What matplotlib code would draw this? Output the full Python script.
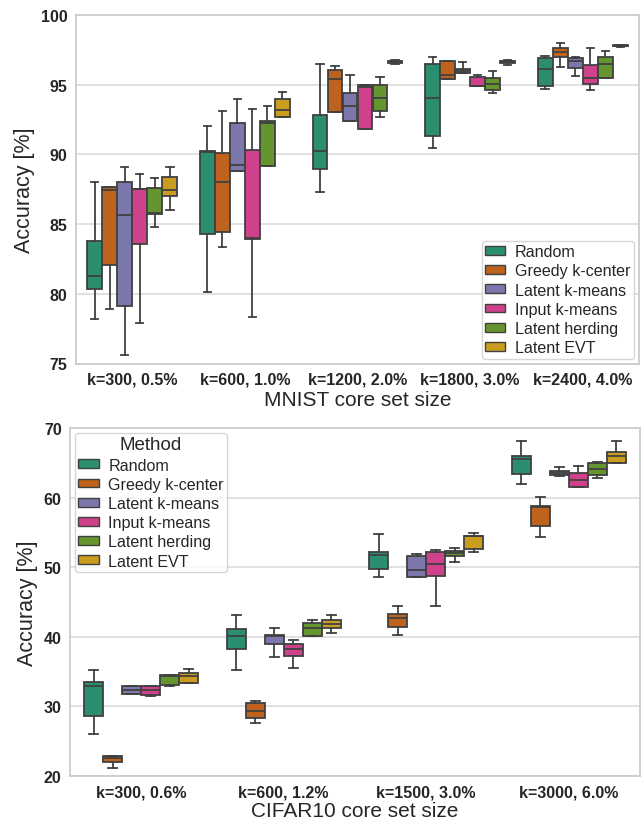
import colorsys
import matplotlib
matplotlib.use("Agg")
import matplotlib.pyplot as plt
import matplotlib.colors as mcolors
from matplotlib.patches import Patch

plt.rcParams['font.family'] = ['Liberation Sans', 'DejaVu Sans']

methods = ["Random", "Greedy k-center", "Latent k-means", "Input k-means",
           "Latent herding", "Latent EVT"]
base_colors = ["#1b9e77", "#d95f02", "#7570b3", "#e7298a", "#66a61e", "#e6ab02"]

# ---------- MNIST: (whislo, q1, med, q3, whishi) per method per group ----------
mnist_groups = ["k=300, 0.5%", "k=600, 1.0%", "k=1200, 2.0%", "k=1800, 3.0%", "k=2400, 4.0%"]
mnist_random = [(78.18, 80.38, 81.27, 83.76, 88.04), (80.10, 84.28, 90.17, 90.22, 92.06),
                (87.32, 88.95, 90.26, 92.82, 96.46), (90.45, 91.34, 94.07, 96.48, 96.99),
                (94.71, 94.93, 96.15, 96.91, 97.06)]
mnist_greedy = [(78.88, 82.08, 87.44, 87.63, 87.68), (83.35, 84.45, 88.04, 90.07, 93.13),
                (93.06, 93.06, 95.38, 96.03, 96.36), (95.38, 95.38, 95.69, 96.67, 96.67),
                (96.27, 96.96, 97.37, 97.63, 97.97)]
mnist_lkmeans = [(75.60, 79.14, 85.65, 87.99, 89.07), (88.78, 88.78, 89.21, 92.22, 93.95),
                 (92.42, 92.42, 93.47, 94.43, 95.67), (95.84, 95.84, 96.00, 96.15, 96.63),
                 (95.60, 96.22, 96.70, 96.94, 96.99)]
mnist_ikmeans = [(77.92, 83.59, 87.49, 87.54, 88.56), (78.30, 83.95, 84.02, 90.29, 93.25),
                 (91.82, 91.82, 94.83, 94.98, 95.00), (94.88, 94.88, 94.90, 95.53, 95.67),
                 (94.64, 95.07, 95.45, 96.44, 97.63)]
mnist_herding = [(84.81, 85.72, 85.77, 87.61, 88.33), (89.19, 89.19, 92.25, 92.42, 93.44),
                 (92.70, 93.09, 94.07, 94.95, 95.57), (94.40, 94.59, 95.02, 95.48, 95.96),
                 (95.45, 95.45, 96.51, 97.01, 97.39)]
mnist_evt = [(86.03, 87.01, 87.44, 88.40, 89.07), (92.66, 92.66, 93.16, 93.97, 94.50),
             (96.52, 96.56, 96.65, 96.72, 96.75), (96.41, 96.56, 96.63, 96.70, 96.74),
             (97.72, 97.75, 97.79, 97.84, 97.86)]
mnist_data = [mnist_random, mnist_greedy, mnist_lkmeans, mnist_ikmeans, mnist_herding, mnist_evt]

# ---------- CIFAR10 ----------
cifar_groups = ["k=300, 0.6%", "k=600, 1.2%", "k=1500, 3.0%", "k=3000, 6.0%"]
cifar_random = [(26.00, 28.64, 32.86, 33.48, 35.16), (35.21, 38.19, 40.11, 41.11, 43.13),
                (48.55, 49.80, 51.81, 52.15, 54.84), (61.94, 63.33, 65.54, 65.97, 68.18)]
cifar_greedy = [(21.10, 22.02, 22.54, 22.88, 22.88), (27.58, 28.35, 29.36, 30.46, 30.84),
                (40.25, 41.40, 42.70, 43.27, 44.42), (54.36, 55.99, 58.63, 58.77, 60.02)]
cifar_lkmeans = [(31.71, 31.71, 32.38, 33.00, 33.00), (37.03, 38.91, 40.15, 40.20, 41.21),
                 (48.55, 48.55, 49.56, 51.67, 51.86), (63.09, 63.23, 63.57, 63.81, 64.39)]
cifar_ikmeans = [(31.56, 31.66, 32.33, 32.86, 32.86), (35.55, 37.23, 38.23, 38.91, 39.58),
                 (44.38, 48.74, 50.42, 52.15, 52.53), (61.55, 61.55, 62.51, 63.57, 64.48)]
cifar_herding = [(33.00, 33.10, 34.35, 34.44, 34.54), (40.06, 40.15, 41.26, 41.93, 42.36),
                 (50.71, 51.57, 52.01, 52.34, 52.77), (62.75, 63.23, 64.05, 64.91, 65.11)]
cifar_evt = [(33.30, 33.39, 34.40, 34.78, 35.31), (40.54, 41.31, 41.83, 42.36, 43.13),
             (52.25, 52.58, 54.45, 54.50, 54.88), (64.91, 64.91, 66.02, 66.50, 68.18)]
cifar_data = [cifar_random, cifar_greedy, cifar_lkmeans, cifar_ikmeans, cifar_herding, cifar_evt]


def desat(c, prop=0.75):
    r, g, b = mcolors.to_rgb(c)
    h, l, s = colorsys.rgb_to_hls(r, g, b)
    return colorsys.hls_to_rgb(h, l, s * prop)


colors = [desat(c) for c in base_colors]
line_col = "#404040"
grid_col = "#d9d9d9"


def draw(ax, groups, data, ylim, yticks, xlabel, legend_kw, labelpad):
    n = len(methods)
    width = 0.8 / n
    for mi, series in enumerate(data):
        stats = []
        pos = []
        for gi, (lo, q1, med, q3, hi) in enumerate(series):
            stats.append(dict(whislo=lo, q1=q1, med=med, q3=q3, whishi=hi, fliers=[]))
            pos.append(gi - 0.4 + width * (mi + 0.5))
        ax.bxp(stats, positions=pos, widths=width * 0.98, patch_artist=True,
               showfliers=False, manage_ticks=False,
               boxprops=dict(facecolor=colors[mi], edgecolor=line_col, linewidth=1.3),
               medianprops=dict(color=line_col, linewidth=1.3),
               whiskerprops=dict(color=line_col, linewidth=1.3),
               capprops=dict(color=line_col, linewidth=1.3))
    ax.set_xlim(-0.5, len(groups) - 0.5)
    ax.set_ylim(*ylim)
    ax.set_yticks(yticks)
    ax.set_xticks(range(len(groups)))
    ax.set_xticklabels(groups)
    for lab in ax.get_xticklabels() + ax.get_yticklabels():
        lab.set_fontweight("bold")
        lab.set_fontsize(11.5)
    ax.tick_params(axis="both", length=0, pad=6, colors="#262626")
    ax.grid(axis="y", color=grid_col, linewidth=1.1)
    ax.set_axisbelow(True)
    for sp in ax.spines.values():
        sp.set_color("#cccccc")
        sp.set_linewidth(1.3)
    ax.set_ylabel("Accuracy [%]", fontsize=15.5, color="#262626")
    ax.set_xlabel(xlabel, fontsize=15, color="#262626", labelpad=labelpad)
    handles = [Patch(facecolor=colors[i], edgecolor=line_col, linewidth=1.0, label=m)
               for i, m in enumerate(methods)]
    leg = ax.legend(handles=handles, fontsize=11.6, handlelength=1.25, handleheight=0.45,
                    borderpad=0.22, labelspacing=0.26, handletextpad=0.6,
                    framealpha=0.8, edgecolor="#cccccc", fancybox=True, **legend_kw)
    if leg.get_title() is not None:
        leg.get_title().set_fontsize(13.5)
        leg.get_title().set_color("#262626")
    for t in leg.get_texts():
        t.set_color("#262626")


fig = plt.figure(figsize=(6.43, 8.20), dpi=100)
ax1 = fig.add_axes([76 / 643, 1 - 364.5 / 820, 563 / 643, 348.5 / 820])
ax2 = fig.add_axes([70 / 643, 1 - 777 / 820, 570 / 643, 348 / 820])

draw(ax1, mnist_groups, mnist_data, (75, 100), [75, 80, 85, 90, 95, 100],
     "MNIST core set size", dict(loc="lower right", borderaxespad=0.3), 2)
draw(ax2, cifar_groups, cifar_data, (20, 70), [20, 30, 40, 50, 60, 70],
     "CIFAR10 core set size", dict(loc="upper left", title="Method", borderaxespad=0.3), 1)

fig.savefig("out.png", dpi=100)
